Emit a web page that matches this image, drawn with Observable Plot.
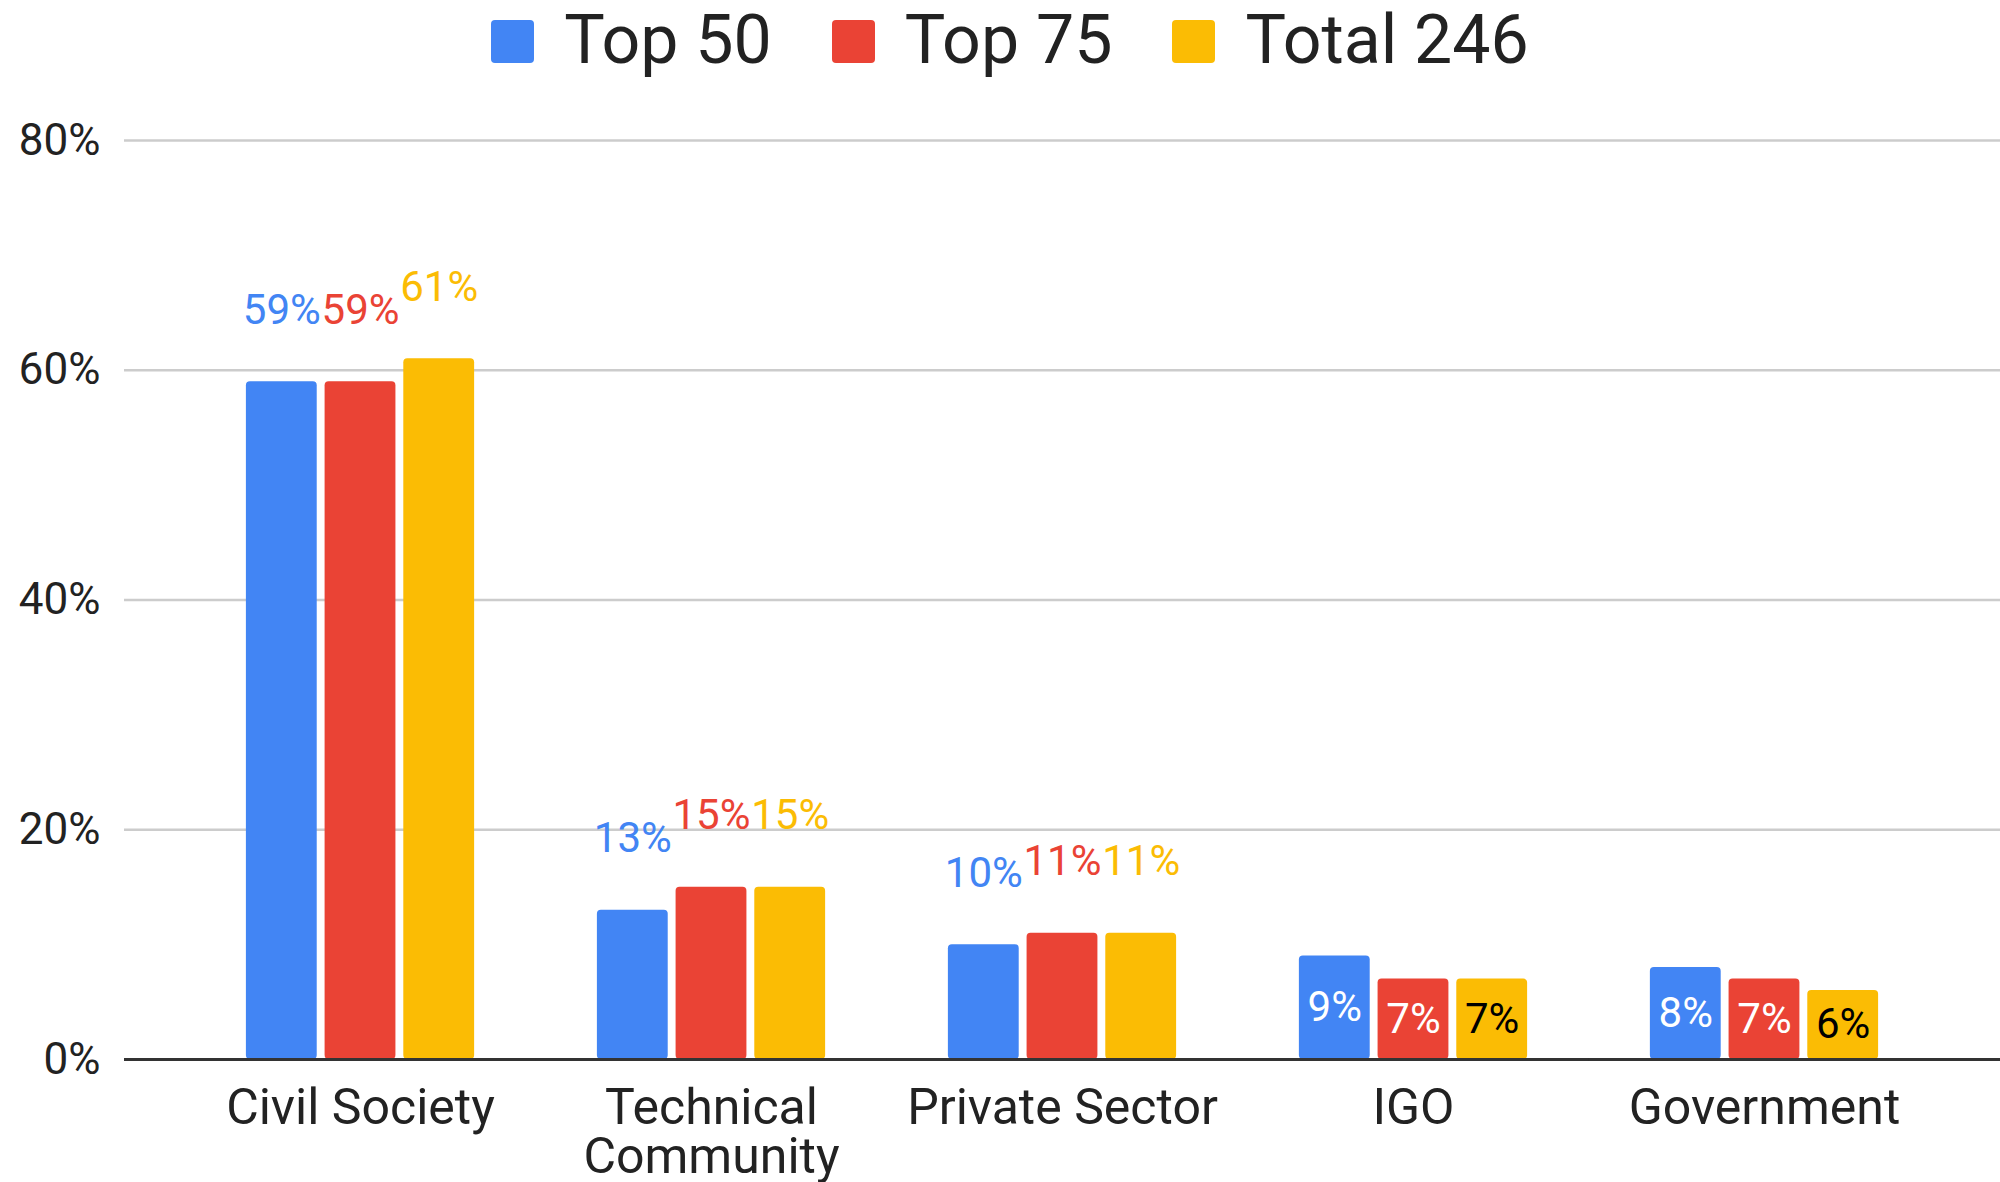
<!DOCTYPE html>
<html>
<head>
<meta charset="utf-8">
<script src="https://cdn.jsdelivr.net/npm/d3@7"></script>
<script src="https://cdn.jsdelivr.net/npm/@observablehq/plot@0.6"></script>
<style>
  html, body { margin: 0; padding: 0; background: #fff; }
  #wrap { position: relative; width: 2000px; height: 1182px; font-family: Roboto, "Noto Sans", sans-serif; }
  #legend { height: 84px; padding-top: 6px; padding-left: 20px; box-sizing: content-box;
            display: flex; justify-content: center; align-items: baseline;
            font-size: 68px; line-height: 68px; color: #222; }
  .item { display: inline-flex; align-items: baseline; margin: 0 30px; }
  .sw { display: inline-block; width: 43px; height: 43px; border-radius: 4px; margin-right: 30px; }
  #charts { position: relative; width: 2000px; height: 1092px; }
  #charts > svg { position: absolute; left: 0; top: 0; }
</style>
</head>
<body>
<div id="wrap">
  <div id="legend"></div>
  <div id="charts"></div>
</div>
<script>
// ---- data ----
const categories = ["Civil Society", "Technical Community", "Private Sector", "IGO", "Government"];
const series = ["Top 50", "Top 75", "Total 246"];
const top50 = [0.59, 0.13, 0.10, 0.09, 0.08];
const top75 = [0.59, 0.15, 0.11, 0.07, 0.07];
const total246 = [0.61, 0.15, 0.11, 0.07, 0.06];
const yTicks = [0, 0.2, 0.4, 0.6, 0.8];
const colors = ["#4285F4", "#EA4335", "#FBBC04"];

const seriesValues = [top50, top75, total246];
const data = [];
categories.forEach((c, i) => series.forEach((s, j) => data.push({category: c, series: s, value: seriesValues[j][i]})));

// ---- legend ----
const legend = document.getElementById("legend");
series.forEach((s, j) => {
  const it = document.createElement("span");
  it.className = "item";
  const sw = document.createElement("span");
  sw.className = "sw";
  sw.style.background = colors[j];
  it.appendChild(sw);
  it.appendChild(document.createTextNode(s));
  legend.appendChild(it);
});

const W = 2000, H = 1092;
const margins = {marginTop: 50, marginBottom: 123, marginLeft: 124, marginRight: 0};
const fmt = d3.format(".0%");

// ---- background: grid + y axis ----
const back = Plot.plot({
  width: W, height: H, ...margins,
  style: {fontFamily: "Roboto, sans-serif", background: "white", color: "#222"},
  y: {domain: [0, 0.8], ticks: yTicks, tickFormat: fmt},
  marks: [
    Plot.gridY(yTicks, {stroke: "#cccccc", strokeOpacity: 1, strokeWidth: 2.5}),
    Plot.axisY(yTicks, {tickSize: 0, tickPadding: 24, fontSize: 44, label: null, fill: "#222", tickFormat: fmt}),
    Plot.ruleY([0], {stroke: "#333", strokeWidth: 3})
  ]
});

// ---- foreground: grouped bars ----
const front = Plot.plot({
  width: W, height: H, ...margins,
  style: {fontFamily: "Roboto, sans-serif", background: "transparent", color: "#222"},
  fx: {domain: categories, paddingInner: 0, paddingOuter: 0.1724, round: false},
  x: {domain: series, paddingInner: 0.1, paddingOuter: 0.78, axis: null, round: false},
  y: {domain: [0, 0.8], axis: null},
  color: {domain: series, range: colors},
  marks: [
    Plot.barY(data, {fx: "category", x: "series", y: "value", fill: "series", rx: 4}),
    Plot.ruleY([0], {stroke: "#333", strokeWidth: 3}),
    Plot.text(data, {filter: d => d.value >= 0.1, fx: "category", x: "series", y: "value",
      text: d => fmt(d.value), fill: "series", dy: -58, lineAnchor: "bottom", fontSize: 42}),
    Plot.text(data, {filter: d => d.value < 0.1 && d.series !== "Total 246", fx: "category", x: "series",
      y: d => d.value / 2, text: d => fmt(d.value), fill: "white", lineAnchor: "middle", fontSize: 42}),
    Plot.text(data, {filter: d => d.value < 0.1 && d.series === "Total 246", fx: "category", x: "series",
      y: d => d.value / 2, text: d => fmt(d.value), fill: "black", lineAnchor: "middle", fontSize: 42}),
    Plot.axisFx({anchor: "bottom", tickSize: 0, tickPadding: 30, fontSize: 50, label: null,
      fill: "#222", lineWidth: 8, lineHeight: 0.98})
  ]
});

const charts = document.getElementById("charts");
charts.appendChild(back);
charts.appendChild(front);
</script>
</body>
</html>
